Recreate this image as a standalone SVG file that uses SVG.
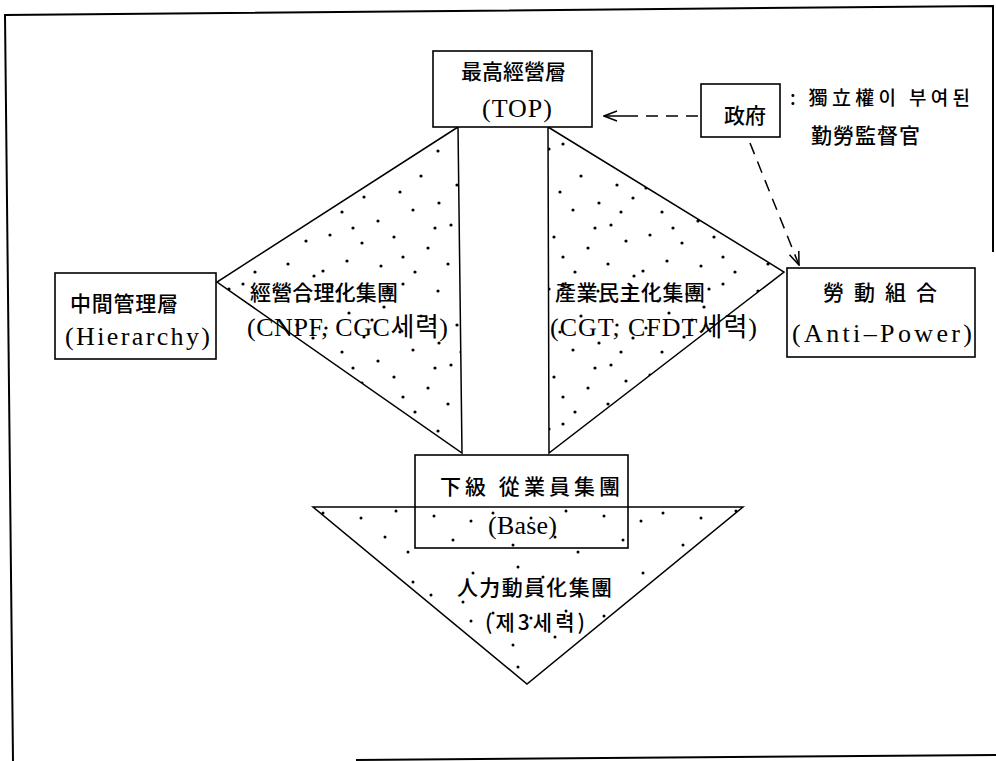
<svg xmlns="http://www.w3.org/2000/svg" width="996" height="761" viewBox="0 0 996 761">
<style>
.bg{fill:#fff}
.box{fill:none;stroke:#000;stroke-width:1.6}
.tri{stroke:#000;stroke-width:1.5;stroke-linejoin:miter}
.frame{fill:none;stroke:#000;stroke-width:2}
.cjk{font-family:"Noto Sans CJK KR","Noto Sans CJK SC",sans-serif;font-size:21px;font-weight:500;fill:#000}
.lat{font-family:"Liberation Serif","Noto Sans CJK KR",serif;font-size:26px;fill:#000}
.dash{fill:none;stroke:#000;stroke-width:1.5;stroke-dasharray:12 8}
.solid{fill:none;stroke:#000;stroke-width:1.5}
</style>
<defs>
<pattern id="dotsA" patternUnits="userSpaceOnUse" width="160" height="140">
<g fill="#000">
<circle cx="12" cy="6" r="1.6"/><circle cx="47" cy="14" r="1.6"/><circle cx="83" cy="4" r="1.6"/><circle cx="118" cy="11" r="1.6"/><circle cx="149" cy="19" r="1.6"/>
<circle cx="29" cy="33" r="1.6"/><circle cx="64" cy="27" r="1.6"/><circle cx="101" cy="36" r="1.6"/><circle cx="137" cy="45" r="1.6"/><circle cx="6" cy="48" r="1.6"/>
<circle cx="44" cy="57" r="1.6"/><circle cx="80" cy="52" r="1.6"/><circle cx="119" cy="63" r="1.6"/><circle cx="153" cy="58" r="1.6"/><circle cx="22" cy="72" r="1.6"/>
<circle cx="58" cy="81" r="1.6"/><circle cx="93" cy="70" r="1.6"/><circle cx="131" cy="85" r="1.6"/><circle cx="10" cy="95" r="1.6"/><circle cx="42" cy="103" r="1.6"/>
<circle cx="74" cy="97" r="1.6"/><circle cx="108" cy="108" r="1.6"/><circle cx="146" cy="101" r="1.6"/><circle cx="27" cy="121" r="1.6"/><circle cx="61" cy="126" r="1.6"/>
<circle cx="95" cy="132" r="1.6"/><circle cx="128" cy="124" r="1.6"/><circle cx="154" cy="136" r="1.6"/><circle cx="3" cy="131" r="1.6"/><circle cx="83" cy="117" r="1.6"/>
<circle cx="33" cy="88" r="1.6"/><circle cx="141" cy="72" r="1.6"/><circle cx="69" cy="9" r="1.6"/><circle cx="115" cy="88" r="1.6"/><circle cx="52" cy="40" r="1.6"/><circle cx="18" cy="21" r="1.6"/>
</g>
</pattern>
<pattern id="dotsB" patternUnits="userSpaceOnUse" width="170" height="100" x="313" y="507">
<g fill="#000">
<circle cx="10" cy="6" r="1.5"/><circle cx="48" cy="11" r="1.5"/><circle cx="83" cy="4" r="1.5"/><circle cx="121" cy="9" r="1.5"/><circle cx="158" cy="14" r="1.5"/>
<circle cx="30" cy="38" r="1.5"/><circle cx="95" cy="45" r="1.5"/><circle cx="140" cy="33" r="1.5"/><circle cx="60" cy="70" r="1.5"/><circle cx="12" cy="80" r="1.5"/>
<circle cx="118" cy="88" r="1.5"/><circle cx="160" cy="66" r="1.5"/><circle cx="72" cy="30" r="1.5"/><circle cx="150" cy="95" r="1.5"/><circle cx="35" cy="60" r="1.5"/><circle cx="100" cy="75" r="1.5"/>
</g>
</pattern>
<marker id="arr" viewBox="0 0 15 12" markerWidth="15" markerHeight="12" refX="14" refY="6" orient="auto" markerUnits="userSpaceOnUse">
<path d="M1,1 L14,6 L1,11" fill="none" stroke="#000" stroke-width="1.5" stroke-dasharray="none"/>
</marker>
</defs>
<rect class="bg" x="0" y="0" width="996" height="761"/>

<g id="frame">
<polyline class="frame" points="13,761 5,15 993,6 993,252"/>
<line class="frame" x1="356" y1="760" x2="996" y2="755"/>
</g>

<g id="tri-left">
<polygon class="tri" fill="url(#dotsA)" points="458,127 217,282 462,453"/>
<text class="cjk" x="250" y="300" textLength="148" lengthAdjust="spacing">經營合理化集團</text>
<text class="lat" x="247" y="336" textLength="201" lengthAdjust="spacing">(CNPF, CGC세력)</text>
</g>

<g id="tri-right">
<polygon class="tri" fill="url(#dotsA)" points="548,127 784,272 549,453"/>
<text class="cjk" x="555" y="300" textLength="150" lengthAdjust="spacing">產業民主化集團</text>
<text class="lat" x="550" y="336" textLength="207" lengthAdjust="spacing">(CGT, CFDT세력)</text>
</g>

<g id="tri-bottom">
<polygon class="tri" fill="url(#dotsB)" points="313,507 743,507 527,684"/>
<text class="cjk" x="457" y="595" textLength="155" lengthAdjust="spacing">人力動員化集團</text>
<text class="cjk" x="485" y="630" textLength="100" lengthAdjust="spacing">(제3세력)</text>
</g>

<g id="node-top">
<rect class="box" x="433" y="51" width="159" height="76" style="fill:#fff"/>
<text class="cjk" x="461" y="79" textLength="105" lengthAdjust="spacing">最高經營層</text>
<text class="lat" x="482" y="117" textLength="70" lengthAdjust="spacing">(TOP)</text>
</g>

<g id="node-gov">
<rect class="box" x="701" y="84" width="79" height="53" style="fill:#fff"/>
<text class="cjk" x="724" y="123" textLength="42" lengthAdjust="spacing">政府</text>
</g>

<g id="note-gov">
<text class="cjk" x="790" y="105" style="font-size:19px" textLength="180" lengthAdjust="spacing">: 獨立權이 부여된</text>
<text class="cjk" x="811" y="143" textLength="109" lengthAdjust="spacing">勤勞監督官</text>
</g>

<g id="node-middle">
<rect class="box" x="55" y="273" width="161" height="86" style="fill:#fff"/>
<text class="cjk" x="70" y="311" textLength="108" lengthAdjust="spacing">中間管理層</text>
<text class="lat" x="65" y="345" textLength="145" lengthAdjust="spacing">(Hierarchy)</text>
</g>

<g id="node-union">
<rect class="box" x="787" y="268" width="188" height="89" style="fill:#fff"/>
<text class="cjk" x="823" y="300" textLength="114" lengthAdjust="spacing">勞 動 組 合</text>
<text class="lat" x="792" y="342" textLength="180" lengthAdjust="spacing">(Anti–Power)</text>
</g>

<g id="node-base">
<rect class="box" x="415" y="455" width="213" height="93"/>
<text class="cjk" x="440" y="494" textLength="180" lengthAdjust="spacing">下級 從業員集團</text>
<text class="lat" x="488" y="534" textLength="69" lengthAdjust="spacing">(Base)</text>
</g>

<g id="connectors">
<line class="dash" x1="698" y1="116" x2="637" y2="116"/>
<line class="solid" x1="637" y1="116" x2="604" y2="116" marker-end="url(#arr)"/>
<line class="dash" x1="750" y1="143" x2="799" y2="265" marker-end="url(#arr)"/>
</g>
</svg>
